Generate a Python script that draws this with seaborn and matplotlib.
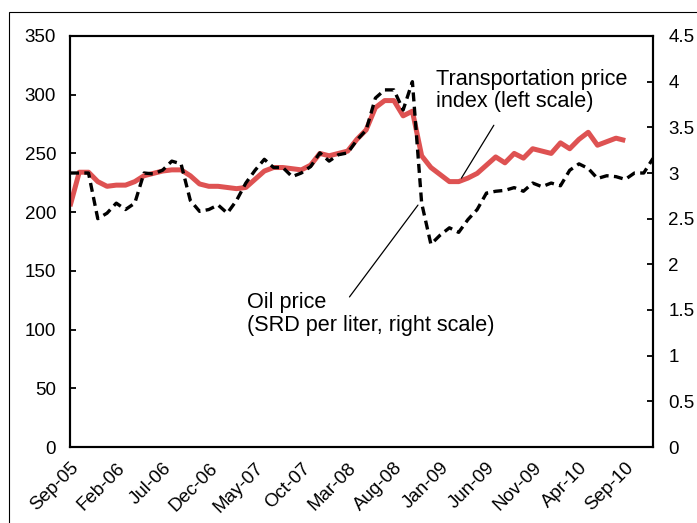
import numpy as np
import pandas as pd
import matplotlib
matplotlib.use("Agg")
import matplotlib.pyplot as plt
import matplotlib.patches as mpatches
import seaborn as sns

# ---- data ----
months = pd.date_range("2005-09-01", "2010-12-01", freq="MS").strftime("%b-%y").tolist()
tick_labels = ["Sep-05", "Feb-06", "Jul-06", "Dec-06", "May-07", "Oct-07", "Mar-08",
               "Aug-08", "Jan-09", "Jun-09", "Nov-09", "Apr-10", "Sep-10"]
transport_index = [205, 234, 234, 226, 222, 223, 223, 226, 231, 233,
                   235, 236, 236, 231, 224, 222, 222, 221, 220, 221,
                   228, 235, 238, 238, 237, 236, 240, 250, 248, 250,
                   252, 262, 270, 289, 295, 295, 282, 286, 248, 238,
                   232, 226, 226, 229, 233, 240, 247, 242, 250, 246,
                   254, 252, 250, 259, 254, 262, 268, 257, 260, 263, 261]
oil_price = [3.0, 3.0, 3.0, 2.5, 2.56, 2.67, 2.6, 2.67, 3.0, 2.99,
             3.03, 3.13, 3.1, 2.7, 2.58, 2.6, 2.65, 2.56, 2.7, 2.89,
             3.03, 3.15, 3.06, 3.06, 2.96, 3.0, 3.07, 3.22, 3.13, 3.2,
             3.22, 3.36, 3.47, 3.82, 3.91, 3.91, 3.69, 4.0, 2.67, 2.22,
             2.32, 2.4, 2.35, 2.49, 2.6, 2.78, 2.8, 2.81, 2.84, 2.8,
             2.89, 2.85, 2.89, 2.86, 3.03, 3.1, 3.05, 2.94, 2.97, 2.96,
             2.93, 3.0, 3.0, 3.16]

df_t = pd.DataFrame({"pos": np.arange(len(transport_index)), "value": transport_index})
df_o = pd.DataFrame({"pos": np.arange(len(oil_price)), "value": oil_price})

sns.set_style("white")
plt.rcParams["font.family"] = ["Liberation Sans", "DejaVu Sans"]
plt.rcParams["text.color"] = "black"
plt.rcParams["xtick.color"] = "black"
plt.rcParams["ytick.color"] = "black"

fig = plt.figure(figsize=(6.97, 5.23), dpi=100)
ax = fig.add_axes([70 / 697, 1 - 447 / 523, (653 - 70) / 697, (447 - 36) / 523])
ax2 = ax.twinx()

sns.lineplot(data=df_t, x="pos", y="value", ax=ax, color="#DE5252", linewidth=3.6,
             solid_joinstyle="round", solid_capstyle="butt")
sns.lineplot(data=df_o, x="pos", y="value", ax=ax2, color="black", linewidth=2.4,
             dashes=False, linestyle=(0, (2.7, 1.6)))

n = len(months) - 1
ax.set_xlim(0, n)
ax.set_ylim(0, 350)
ax2.set_ylim(0, 4.5)
ax.set_yticks(np.arange(0, 351, 50))
ax2.set_yticks(np.arange(0, 4.51, 0.5))
ax2.set_yticklabels(["0", "0.5", "1", "1.5", "2", "2.5", "3", "3.5", "4", "4.5"])
ax.set_xticks([months.index(t) for t in tick_labels])
ax.set_xticklabels(tick_labels, rotation=45, ha="right", rotation_mode="anchor")

for a in (ax, ax2):
    a.set_xlabel("")
    a.set_ylabel("")
    for s in a.spines.values():
        s.set_visible(True)
        s.set_linewidth(1.5)
        s.set_color("black")

ax.tick_params(axis="y", direction="in", length=4.5, width=1.3, labelsize=13.5, pad=10, colors="black")
ax.tick_params(axis="x", direction="in", length=4.5, width=1.3, labelsize=13.5, pad=9, colors="black")
ax2.tick_params(axis="y", direction="in", length=4.5, width=1.3, labelsize=13.5, pad=11, colors="black")

# annotations
ax.text(39.6, 322, "Transportation price\nindex (left scale)", fontsize=15.6, va="top", ha="left",
        linespacing=1.05, color="black")
ax.plot([42.3, 45.8], [229, 274], color="black", linewidth=0.9)
ax.text(19.1, 132, "Oil price\n(SRD per liter, right scale)", fontsize=15.6, va="top", ha="left",
        linespacing=1.1, color="black")
ax.plot([30.2, 37.6], [127.8, 206], color="black", linewidth=0.9)

# outer frame
fig.patches.append(mpatches.Rectangle((9 / 697, -0.1), 1.2, 1 - 12 / 523 + 0.1, fill=False,
                                      edgecolor="black", linewidth=0.8, transform=fig.transFigure))

fig.savefig("out.png", dpi=100)
